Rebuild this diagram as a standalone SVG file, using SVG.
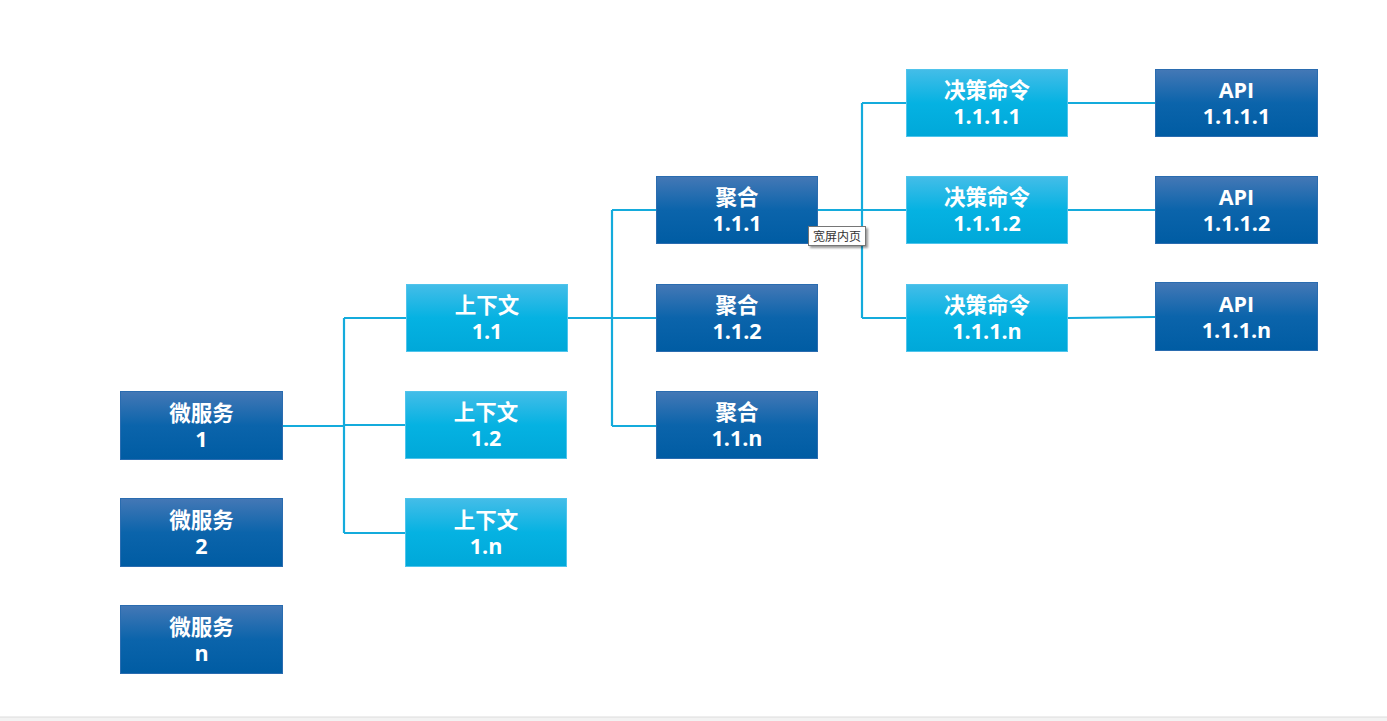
<svg xmlns="http://www.w3.org/2000/svg" width="1387" height="721" viewBox="0 0 1387 721">
<defs>
<linearGradient id="gd" x1="0" y1="0" x2="0" y2="1">
<stop offset="0" stop-color="#4478b6"/>
<stop offset="0.5" stop-color="#0b64ab"/>
<stop offset="1" stop-color="#005ca3"/>
</linearGradient>
<linearGradient id="gl" x1="0" y1="0" x2="0" y2="1">
<stop offset="0" stop-color="#44bde8"/>
<stop offset="0.5" stop-color="#05b2e2"/>
<stop offset="1" stop-color="#00a8d9"/>
</linearGradient>
<filter id="sh" x="-20%" y="-20%" width="150%" height="160%">
<feDropShadow dx="2" dy="2" stdDeviation="1" flood-color="#000" flood-opacity="0.4"/>
</filter>
</defs>
<style>
.d{fill:url(#gd);stroke:#2a6cb0;stroke-width:1}
.l{fill:url(#gl);stroke:#4fc4ec;stroke-width:1}
.t{font-family:"Open Sans","Noto Sans CJK SC",sans-serif;font-weight:bold;font-size:21.5px;fill:#fff;text-anchor:middle}
.c{fill:none;stroke:#14abdc;stroke-width:2.2}
</style>
<rect width="1387" height="721" fill="#fff"/>
<rect x="0" y="717" width="1387" height="4" fill="#f2f2f2"/>
<line x1="0" y1="717" x2="1387" y2="717" stroke="#dcdcdc" stroke-width="1"/>
<g id="connectors">
<path class="c" d="M283,426 H344 M344,318 V533 M344,318 H406 M344,425 H405 M344,533 H405"/>
<path class="c" d="M568,318 H656 M612,210 V426 M612,210 H656 M612,426 H656"/>
<path class="c" d="M818,210 H906 M862,103 V318 M862,103 H906 M862,318 H906"/>
<path class="c" d="M1068,103 H1155 M1068,210 H1155 M1068,318 L1155,317"/>
</g>
<g id="ms1"><rect class="d" x="120.5" y="391.5" width="162" height="68"/><text class="t"><tspan x="201.5" y="421">微服务</tspan><tspan x="201.5" y="447">1</tspan></text></g>
<g id="ms2"><rect class="d" x="120.5" y="498.5" width="162" height="68"/><text class="t"><tspan x="201.5" y="528">微服务</tspan><tspan x="201.5" y="554">2</tspan></text></g>
<g id="msn"><rect class="d" x="120.5" y="605.5" width="162" height="68"/><text class="t"><tspan x="201.5" y="635">微服务</tspan><tspan x="201.5" y="661">n</tspan></text></g>
<g id="ctx11"><rect class="l" x="406.5" y="284.5" width="161" height="67"/><text class="t"><tspan x="487" y="313">上下文</tspan><tspan x="487" y="339">1.1</tspan></text></g>
<g id="ctx12"><rect class="l" x="405.5" y="391.5" width="161" height="67"/><text class="t"><tspan x="486" y="420">上下文</tspan><tspan x="486" y="446">1.2</tspan></text></g>
<g id="ctx1n"><rect class="l" x="405.5" y="498.5" width="161" height="68"/><text class="t"><tspan x="486" y="528">上下文</tspan><tspan x="486" y="554">1.n</tspan></text></g>
<g id="agg111"><rect class="d" x="656.5" y="176.5" width="161" height="67"/><text class="t"><tspan x="737" y="205">聚合</tspan><tspan x="737" y="231">1.1.1</tspan></text></g>
<g id="agg112"><rect class="d" x="656.5" y="284.5" width="161" height="67"/><text class="t"><tspan x="737" y="313">聚合</tspan><tspan x="737" y="339">1.1.2</tspan></text></g>
<g id="agg11n"><rect class="d" x="656.5" y="391.5" width="161" height="67"/><text class="t"><tspan x="737" y="420">聚合</tspan><tspan x="737" y="446">1.1.n</tspan></text></g>
<g id="cmd1"><rect class="l" x="906.5" y="69.5" width="161" height="67"/><text class="t"><tspan x="987" y="98">决策命令</tspan><tspan x="987" y="124">1.1.1.1</tspan></text></g>
<g id="cmd2"><rect class="l" x="906.5" y="176.5" width="161" height="67"/><text class="t"><tspan x="987" y="205">决策命令</tspan><tspan x="987" y="231">1.1.1.2</tspan></text></g>
<g id="cmdn"><rect class="l" x="906.5" y="284.5" width="161" height="67"/><text class="t"><tspan x="987" y="313">决策命令</tspan><tspan x="987" y="339">1.1.1.n</tspan></text></g>
<g id="api1"><rect class="d" x="1155.5" y="69.5" width="162" height="67"/><text class="t"><tspan x="1236.5" y="98">API</tspan><tspan x="1236.5" y="124">1.1.1.1</tspan></text></g>
<g id="api2"><rect class="d" x="1155.5" y="176.5" width="162" height="67"/><text class="t"><tspan x="1236.5" y="205">API</tspan><tspan x="1236.5" y="231">1.1.1.2</tspan></text></g>
<g id="apin"><rect class="d" x="1155.5" y="282.5" width="162" height="68"/><text class="t"><tspan x="1236.5" y="312">API</tspan><tspan x="1236.5" y="338">1.1.1.n</tspan></text></g>
<g id="tooltip"><rect x="808.5" y="226.5" width="57" height="19" fill="#fff" stroke="#767676" stroke-width="1" filter="url(#sh)"/><text x="837" y="241" font-family="'Noto Sans CJK SC',sans-serif" font-size="12" fill="#333" text-anchor="middle">宽屏内页</text></g>
</svg>
